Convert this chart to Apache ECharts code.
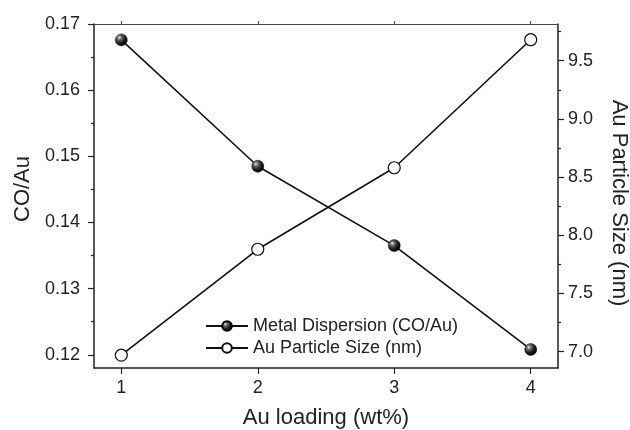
<!DOCTYPE html>
<html>
<head>
<meta charset="utf-8">
<script src="https://cdn.jsdelivr.net/npm/echarts@6/dist/echarts.min.js"></script>
<style>html,body{margin:0;padding:0;background:#fff}#c{width:630px;height:430px}</style>
</head>
<body>
<div id="c"></div>
<script>
const loadings = [1, 2, 3, 4];
const dispersion = [0.1676, 0.1485, 0.1365, 0.1208];
const particleSize = [6.97, 7.88, 8.58, 9.68];
const leftTicks = [0.12, 0.13, 0.14, 0.15, 0.16, 0.17];
const leftMinor = [0.125, 0.135, 0.145, 0.155, 0.165];
const rightTicks = [7.0, 7.5, 8.0, 8.5, 9.0, 9.5];
const rightMinor = [7.25, 7.75, 8.25, 8.75, 9.25, 9.75];
const xTicks = [1, 2, 3, 4];

const FONT = 'Liberation Sans';
const ink = '#222';
const chart = echarts.init(document.getElementById('c'), null, {renderer: 'canvas'});

const sphere = {
  type: 'radial', x: 0.35, y: 0.32, r: 0.75,
  colorStops: [
    {offset: 0, color: '#e8e8e8'},
    {offset: 0.25, color: '#666'},
    {offset: 0.6, color: '#1a1a1a'},
    {offset: 1, color: '#000'}
  ]
};

const axisLine = {show: true, lineStyle: {color: ink, width: 1.5}};
chart.setOption({
  animation: false,
  backgroundColor: '#fff',
  textStyle: {fontFamily: FONT, color: ink},
  grid: {left: 94, right: 72, top: 24, bottom: 62, containLabel: false, outerBoundsMode: 'none'},
  legend: {
    orient: 'vertical', left: 205, top: 317, padding: 0,
    itemWidth: 42, itemHeight: 12, itemGap: 4,
    textStyle: {fontFamily: FONT, fontSize: 18, color: ink},
    data: ['Metal Dispersion (CO/Au)', 'Au Particle Size (nm)']
  },
  xAxis: [
    {
      type: 'value', min: 0.8, max: 4.2, position: 'bottom',
      name: 'Au loading (wt%)', nameLocation: 'middle', nameGap: 39,
      nameTextStyle: {fontFamily: FONT, fontSize: 22, color: ink},
      axisLine: axisLine,
      axisTick: {show: true, length: 6, customValues: xTicks, lineStyle: {color: ink, width: 1.2}},
      axisLabel: {customValues: xTicks, margin: 11, fontFamily: FONT, fontSize: 18, color: ink},
      splitLine: {show: false}
    },
    {
      type: 'value', min: 0.8, max: 4.2, position: 'top',
      axisLine: {show: true, lineStyle: {color: '#444', width: 1.2}},
      axisTick: {show: true, length: 3, customValues: xTicks, lineStyle: {color: '#444', width: 1}},
      axisLabel: {show: false}, splitLine: {show: false}
    }
  ],
  yAxis: [
    {
      type: 'value', min: 0.118, max: 0.17, position: 'left',
      name: 'CO/Au', nameLocation: 'middle', nameGap: 57,
      nameTextStyle: {fontFamily: FONT, fontSize: 22, color: ink, padding: [0, 0, 0, 14]},
      axisLine: axisLine,
      axisTick: {show: true, length: 6, customValues: leftTicks, lineStyle: {color: ink, width: 1.2}},
      axisLabel: {customValues: leftTicks, margin: 14, fontFamily: FONT, fontSize: 18, color: ink,
        formatter: v => v.toFixed(2)},
      splitLine: {show: false}
    },
    {
      type: 'value', min: 0.118, max: 0.17, position: 'left',
      axisLine: {show: false},
      axisTick: {show: true, length: 3, customValues: leftMinor, lineStyle: {color: ink, width: 1.2}},
      axisLabel: {show: false}, splitLine: {show: false}
    },
    {
      type: 'value', min: 6.86, max: 9.815, position: 'right',
      name: 'Au Particle Size (nm)', nameLocation: 'middle', nameGap: 50, nameRotate: -90,
      nameTextStyle: {fontFamily: FONT, fontSize: 22, color: ink, padding: [0, 0, 0, 14]},
      axisLine: axisLine,
      axisTick: {show: true, length: 6, customValues: rightTicks, lineStyle: {color: ink, width: 1.2}},
      axisLabel: {customValues: rightTicks, margin: 10, fontFamily: FONT, fontSize: 18, color: ink,
        formatter: v => v.toFixed(1)},
      splitLine: {show: false}
    },
    {
      type: 'value', min: 6.86, max: 9.815, position: 'right',
      axisLine: {show: false},
      axisTick: {show: true, length: 3, customValues: rightMinor, lineStyle: {color: ink, width: 1.2}},
      axisLabel: {show: false}, splitLine: {show: false}
    }
  ],
  series: [
    {
      name: 'Metal Dispersion (CO/Au)', type: 'line', xAxisIndex: 0, yAxisIndex: 0,
      data: loadings.map((x, i) => [x, dispersion[i]]),
      symbol: 'circle', symbolSize: 12,
      lineStyle: {color: '#111', width: 1.6},
      itemStyle: {color: sphere, borderColor: '#000', borderWidth: 0.5},
      z: 3
    },
    {
      name: 'Au Particle Size (nm)', type: 'line', xAxisIndex: 0, yAxisIndex: 2,
      data: loadings.map((x, i) => [x, particleSize[i]]),
      symbol: 'circle', symbolSize: 12,
      lineStyle: {color: '#111', width: 1.6},
      itemStyle: {color: '#fff', borderColor: '#111', borderWidth: 1.2},
      z: 3
    }
  ]
});
</script>
</body>
</html>
